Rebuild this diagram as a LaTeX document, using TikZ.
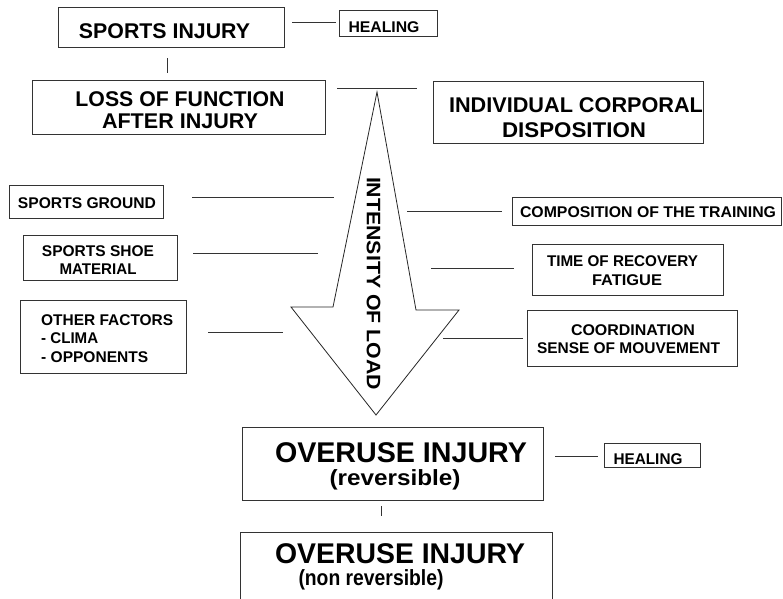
\documentclass[tikz,border=0pt]{standalone}
\usepackage{fontspec}
\setmainfont{Liberation Sans}
\newcommand{\fitw}[2]{\resizebox{#1pt}{\height}{#2}}
\newcommand{\mybox}[5]{\node[boxst, minimum width={(#4)-(#2)}, minimum height={(#5)-(#3)}] (#1) at ({((#2)+(#4))/2},{((#3)+(#5))/2}) {};}
\begin{document}
\begin{tikzpicture}[x=1pt,y=-1pt,
  boxst/.style={draw=black!80, line width=0.9pt, rectangle, inner sep=0pt, fill=white},
  lnk/.style={draw=black!80, line width=0.9pt},
  ts/.style={inner sep=0pt, anchor=base, font=\bfseries\fontsize{15.5}{15.5}\selectfont},
  tm/.style={inner sep=0pt, anchor=base, font=\bfseries\fontsize{21.3}{21.3}\selectfont},
  tl/.style={inner sep=0pt, anchor=base, font=\bfseries\fontsize{28.5}{28.5}\selectfont},
  tp/.style={inner sep=0pt, anchor=base, font=\bfseries\fontsize{22}{22}\selectfont},
  arrowst/.style={draw=black!85, line width=0.8pt, fill=white, line join=miter}]
\useasboundingbox (0,0) rectangle (783,598);
\clip (0,0) rectangle (783,598);
\fill[white] (0,0) rectangle (783,598);

% boxes
\mybox{si}{58}{7}{284}{47}
\mybox{healA}{339}{10}{437}{36}
\mybox{loss}{32}{80}{325}{134}
\mybox{indiv}{433}{81}{703}{143}
\mybox{ground}{9}{185}{163}{218}
\mybox{shoe}{23}{235}{177}{280}
\mybox{other}{20}{300}{186}{373}
\mybox{comp}{512}{197}{781.5}{225}
\mybox{recov}{532}{244}{723}{295}
\mybox{coord}{527}{310}{737}{366}
\mybox{overA}{242}{427}{543}{500}
\mybox{healB}{604}{443}{700}{467}
\mybox{overB}{240}{532}{552}{612}

% arrow
\draw[arrowst] (377,92) -- (416,310) -- (459,310) -- (376,415) -- (291,307) -- (333,307) -- cycle;
\node[inner sep=0pt, rotate=-90, font=\bfseries\fontsize{19.5}{19.5}\selectfont] (load) at (373.5,283.5) {\fitw{213}{INTENSITY OF LOAD}};

% texts
\node[tm] (tsi) at (164.5,38.3) {\fitw{171}{SPORTS INJURY}};
\node[ts] (thA) at (384,32) {\fitw{71}{HEALING}};
\node[tm] (tl1) at (180,106) {\fitw{209}{LOSS OF FUNCTION}};
\node[tm] (tl2) at (180,128) {\fitw{156}{AFTER INJURY}};
\node[tm] (ti1) at (576,112) {\fitw{254}{INDIVIDUAL CORPORAL}};
\node[tm] (ti2) at (574,137) {\fitw{144}{DISPOSITION}};
\node[ts] (tg) at (87,208) {\fitw{138}{SPORTS GROUND}};
\node[ts] (ts1) at (98,256) {\fitw{112}{SPORTS SHOE}};
\node[ts] (ts2) at (98,274) {\fitw{77}{MATERIAL}};
\node[ts, anchor=base west] (to1) at (41,325) {\fitw{132}{OTHER FACTORS}};
\node[ts, anchor=base west] (to2) at (41,343) {\fitw{57}{- CLIMA}};
\node[ts, anchor=base west] (to3) at (41,362) {\fitw{107}{- OPPONENTS}};
\node[ts] (tc) at (648,217) {\fitw{256}{COMPOSITION OF THE TRAINING}};
\node[ts] (tr1) at (622.5,266) {\fitw{151}{TIME OF RECOVERY}};
\node[ts] (tr2) at (627,285) {\fitw{70}{FATIGUE}};
\node[ts] (tk1) at (633,335) {\fitw{124}{COORDINATION}};
\node[ts] (tk2) at (628.5,353) {\fitw{183}{SENSE OF MOUVEMENT}};
\node[tl] (toA1) at (401,462.3) {\fitw{252}{OVERUSE INJURY}};
\node[tp] (toA2) at (395,485) {\fitw{131}{(reversible)}};
\node[ts] (thB) at (648,464) {\fitw{69}{HEALING}};
\node[tl] (toB1) at (400,563) {\fitw{250}{OVERUSE INJURY}};
\node[tp] (toB2) at (371,585) {\fitw{145}{(non reversible)}};

% connector end points
\coordinate (a1) at (167,58);  \coordinate (a2) at (167,73);
\coordinate (b1) at (292,22);  \coordinate (b2) at (336,22);
\coordinate (c1) at (337,88);  \coordinate (c2) at (417,88);
\coordinate (d1) at (192,197); \coordinate (d2) at (334,197);
\coordinate (e1) at (193,253); \coordinate (e2) at (318,253);
\coordinate (f1) at (208,332); \coordinate (f2) at (283,332);
\coordinate (g1) at (407,211); \coordinate (g2) at (502,211);
\coordinate (h1) at (431,268); \coordinate (h2) at (514,268);
\coordinate (i1) at (443,338); \coordinate (i2) at (523,338);
\coordinate (j1) at (555,456); \coordinate (j2) at (598,456);
\coordinate (k1) at (381,506); \coordinate (k2) at (381,516);
\foreach \p in {a,b,c,d,e,f,g,h,i,j,k} \draw[lnk] (\p1) -- (\p2);
\end{tikzpicture}
\end{document}
